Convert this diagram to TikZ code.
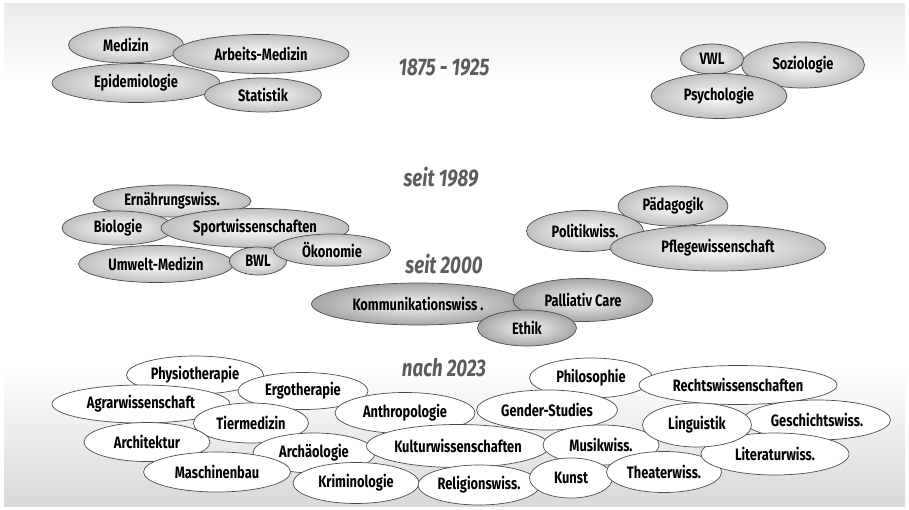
\documentclass[tikz,border=0pt]{standalone}
\usepackage{fontspec}
\setmainfont{Fira Sans}[FakeStretch=0.78]
\usepackage{xcolor}
\usetikzlibrary{shapes.geometric}

\begin{document}
\begin{tikzpicture}[x=1pt, y=-1pt, every node/.style={font=\fontsize{16.5}{19}\selectfont\bfseries}, fach/.style 2 args={ellipse,draw=gray!60!black,line width=0.7pt,minimum width=#1,minimum height=#2,inner sep=0pt}, alt/.style={inner color=white,outer color=gray!50}, mitte/.style={inner color=gray!8,outer color=gray!70}, neu/.style={fill=white}, jahr/.style={font=\fontsize{24}{28}\selectfont\bfseries\itshape,text=gray!72!black}]
\useasboundingbox (0,0) rectangle (909,510);
\fill[white] (0,0) rectangle (909,510);
\shade[top color=gray!16,bottom color=white] (4,4) rectangle (905,82);
\shade[top color=white,bottom color=gray!30] (4,365) rectangle (905,506);
% Jahre
\node[jahr] (j1875) at (444,68) {1875 - 1925};
\node[jahr] (j1989) at (441,177) {seit 1989};
\node[jahr] (j2000) at (444,264) {seit 2000};
\node[jahr] (j2023) at (444,368) {nach 2023};
% 1875 - 1925
\node[fach={115}{36},alt] (med) at (126,45) {Medizin};
\node[fach={176}{39},alt] (amed) at (261,54) {Arbeits-Medizin};
\node[fach={168}{39},alt] (epi) at (136,83) {Epidemiologie};
\node[fach={117}{34},alt] (stat) at (263,95) {Statistik};
\node[fach={123}{46},alt] (sozio) at (803,65) {Soziologie};
\node[fach={63}{30},alt] (vwl) at (712,59) {VWL};
\node[fach={136}{45},alt] (psych) at (719,96) {Psychologie};
% seit 1989
\node[fach={158}{32},alt] (ern) at (172,201) {Ernährungswiss.};
\node[fach={112}{34},alt] (bio) at (118,228) {Biologie};
\node[fach={188}{39},alt] (sport) at (255,228) {Sportwissenschaften};
\node[fach={155}{37},alt] (umed) at (156,264) {Umwelt-Medizin};
\node[fach={57}{28},alt] (bwl) at (258,261) {BWL};
\node[fach={117}{32},alt] (oeko) at (332,250) {Ökonomie};
\node[fach={110}{40},alt] (paed) at (673,206) {Pädagogik};
\node[fach={117}{41},alt] (pol) at (585,231) {Politikwiss.};
\node[fach={215}{46},alt] (pflege) at (718,248) {Pflegewissenschaft};
% seit 2000
\node[fach={213}{42},mitte] (komm) at (418,304) {Kommunikationswiss .};
\node[fach={140}{43},mitte] (pall) at (583,300) {Palliativ Care};
\node[fach={99}{36},mitte] (ethik) at (527,328) {Ethik};
% nach 2023
\node[fach={137}{38},neu] (physio) at (195,375) {Physiotherapie};
\node[fach={130}{37},neu] (ergo) at (303,391) {Ergotherapie};
\node[fach={178}{38},neu] (agrar) at (141,404) {Agrarwissenschaft};
\node[fach={115}{40},neu] (tier) at (251,423) {Tiermedizin};
\node[fach={126}{39},neu] (archi) at (147,442) {Architektur};
\node[fach={140}{41},neu] (anthro) at (405,413) {Anthropologie};
\node[fach={122}{40},neu] (arch) at (314,453) {Archäologie};
\node[fach={147}{40},neu] (masch) at (217,472) {Maschinenbau};
\node[fach={183}{43},neu] (kultur) at (458,446) {Kulturwissenschaften};
\node[fach={126}{41},neu] (krim) at (356,483) {Kriminologie};
\node[fach={122}{40},neu] (relig) at (479,485) {Religionswiss.};
\node[fach={123}{40},neu] (philo) at (591,378) {Philosophie};
\node[fach={141}{40},neu] (gender) at (547,410) {Gender-Studies};
\node[fach={198}{39},neu] (recht) at (738,385) {Rechtswissenschaften};
\node[fach={116}{40},neu] (musik) at (601,445) {Musikwiss.};
\node[fach={83}{40},neu] (kunst) at (571,478) {Kunst};
\node[fach={115}{41},neu] (theater) at (664,472) {Theaterwiss.};
\node[fach={147}{40},neu] (gesch) at (817,420) {Geschichtswiss.};
\node[fach={148}{42},neu] (lit) at (775,454) {Literaturwiss.};
\node[fach={109}{44},neu] (ling) at (697,425) {Linguistik};
\end{tikzpicture}
\end{document}
